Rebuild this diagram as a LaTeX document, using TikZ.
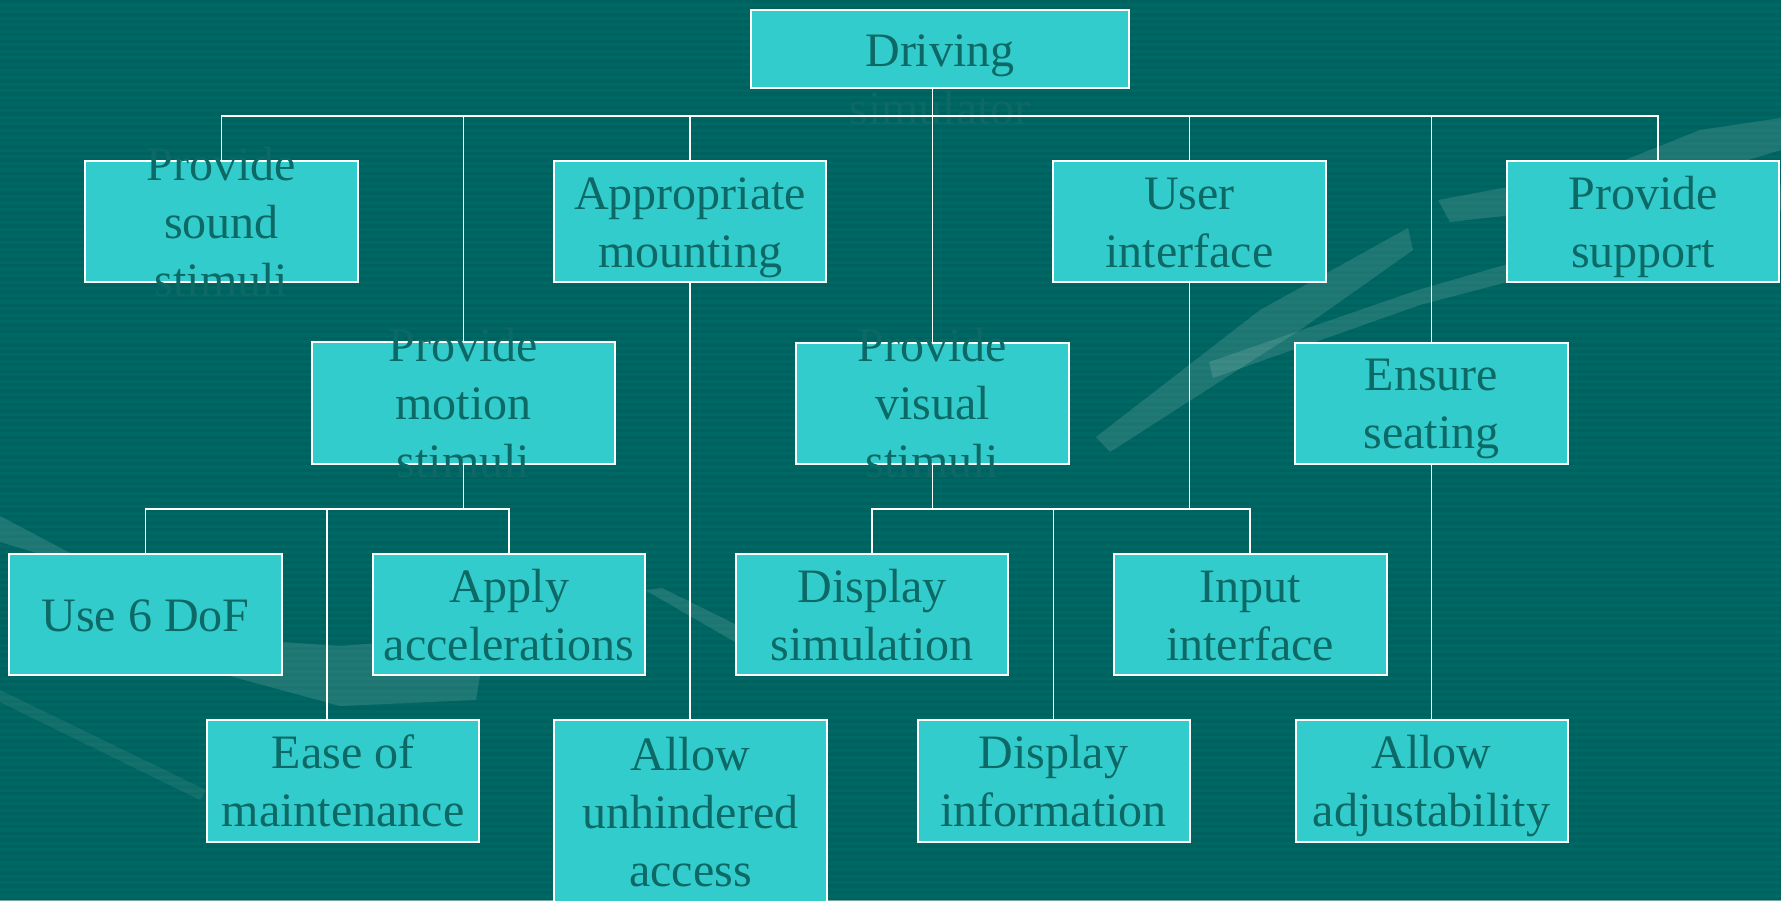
\documentclass[tikz,border=0pt]{standalone}
\usepackage{fontspec}
\setmainfont{Liberation Serif}
\definecolor{bgteal}{HTML}{006864}
\definecolor{stripeteal}{HTML}{005E5A}
\definecolor{boxfill}{HTML}{33CCCC}
\definecolor{inkteal}{HTML}{0C6965}
\tikzset{
  chartbox/.style={draw=white, line width=2pt, fill=boxfill, inner sep=0pt,
    minimum width=#1, minimum height=121pt},
  chartbox/.default=273pt,
  lbl/.style={text=inkteal, align=center, inner sep=0pt, yshift=-5pt,
    font=\fontsize{48}{58}\selectfont},
  link/.style={draw=white, line width=1.8pt},
  swoosh/.style={fill=white, fill opacity=0.12},
}
\begin{document}
\begin{tikzpicture}[x=1pt, y=-1pt]
\useasboundingbox (0,0) rectangle (1781,900);
% background with fine horizontal stripes
\fill[bgteal] (0,0) rectangle (1781,900);
\foreach \s in {0,6.6,...,900} \fill[stripeteal, opacity=0.55] (0,\s) rectangle (1781,\s+3.3);
% faint decorative swooshes
\fill[swoosh] (1096,437) -- (1110,452) -- (1300,330) -- (1413,250) -- (1408,228) -- (1260,310) -- cycle;
\fill[swoosh] (1209,362) -- (1213,378) -- (1420,305) -- (1781,210) -- (1781,185) -- (1418,290) -- cycle;
\fill[swoosh] (1438,200) -- (1450,222) -- (1600,205) -- (1781,150) -- (1781,118) -- (1700,130) -- (1600,170) -- cycle;
\fill[swoosh] (0,516) -- (0,542) -- (60,560) -- (72,554) -- cycle;
\fill[swoosh] (230,676) -- (282,642) -- (340,646) -- (420,640) -- (480,676) -- (476,700) -- (340,706) -- cycle;
\fill[swoosh] (645,590) -- (735,642) -- (735,624) -- (662,588) -- cycle;
\fill[swoosh, fill opacity=0.07] (0,690) -- (0,702) -- (200,800) -- (206,790) -- cycle;

% boxes
\node[chartbox=378pt, minimum height=78pt] (root) at (940,49) {};
\node[chartbox] (sound) at (221.5,221.5) {};
\node[chartbox=272pt] (mount) at (690,221.5) {};
\node[chartbox] (ui) at (1189.5,221.5) {};
\node[chartbox=272pt] (support) at (1643,221.5) {};
\node[chartbox=303pt, minimum height=122pt] (motion) at (463.5,403) {};
\node[chartbox] (visual) at (932.5,403) {};
\node[chartbox] (seat) at (1431.5,403) {};
\node[chartbox] (dof) at (145.5,614.5) {};
\node[chartbox=272pt] (accel) at (509,614.5) {};
\node[chartbox=272pt] (dsim) at (872,614.5) {};
\node[chartbox] (input) at (1250,614.5) {};
\node[chartbox=272pt, minimum height=122pt] (ease) at (343,781) {};
\node[chartbox, minimum height=184pt] (access) at (690.5,812) {};
\node[chartbox=272pt, minimum height=122pt] (dinfo) at (1053.5,781) {};
\node[chartbox=272pt, minimum height=122pt] (adjust) at (1431.5,781) {};

% labels (a strut on every line keeps the lines evenly centred)
\node[lbl] (root-t) at ([yshift=-30pt]root) {\strut Driving\\\strut simulator};
\node[lbl] (sound-t) at (sound) {\strut Provide\\\strut sound\\\strut stimuli};
\node[lbl] (mount-t) at (mount) {\strut Appropriate\\\strut mounting};
\node[lbl] (ui-t) at (ui) {\strut User\\\strut interface};
\node[lbl] (support-t) at (support) {\strut Provide\\\strut support};
\node[lbl] (motion-t) at (motion) {\strut Provide\\\strut motion\\\strut stimuli};
\node[lbl] (visual-t) at (visual) {\strut Provide\\\strut visual\\\strut stimuli};
\node[lbl] (seat-t) at (seat) {\strut Ensure\\\strut seating};
\node[lbl] (dof-t) at (dof) {\strut Use 6 DoF};
\node[lbl] (accel-t) at (accel) {\strut Apply\\\strut accelerations};
\node[lbl] (dsim-t) at (dsim) {\strut Display\\\strut simulation};
\node[lbl] (input-t) at (input) {\strut Input\\\strut interface};
\node[lbl] (ease-t) at (ease) {\strut Ease of\\\strut maintenance};
\node[lbl] (access-t) at (access) {\strut Allow\\\strut unhindered\\\strut access};
\node[lbl] (dinfo-t) at (dinfo) {\strut Display\\\strut information};
\node[lbl] (adjust-t) at (adjust) {\strut Allow\\\strut adjustability};

% connectors
\coordinate (busL) at (221.5,116);
\coordinate (busR) at (1658,116);
\coordinate (lowbus) at (0,509);
\coordinate (easetop) at (327,720);
\draw[link] (visual.north) -- (visual.north |- root.south);
\draw[link] (sound.north) -- (sound.north |- busL) -- (busR) -- (busR |- support.north);
\draw[link] (mount.north) -- (mount.north |- busL);
\draw[link] (ui.north) -- (ui.north |- busL);
\draw[link] (motion.north) -- (motion.north |- busL);
\draw[link] (seat.north) -- (seat.north |- busL);
\draw[link] (motion.south) -- (motion.south |- lowbus);
\draw[link] (dof.north) -- (dof.north |- lowbus) -- (accel.north |- lowbus) -- (accel.north);
\draw[link] (easetop) -- (easetop |- lowbus);
\draw[link] (mount.south) -- (mount.south |- access.north);
\draw[link] (visual.south) -- (visual.south |- lowbus);
\draw[link] (dsim.north) -- (dsim.north |- lowbus) -- (input.north |- lowbus) -- (input.north);
\draw[link] (ui.south) -- (ui.south |- lowbus);
\draw[link] (dinfo.north) -- (dinfo.north |- lowbus);
\draw[link] (seat.south) -- (adjust.north);
\end{tikzpicture}
\end{document}
